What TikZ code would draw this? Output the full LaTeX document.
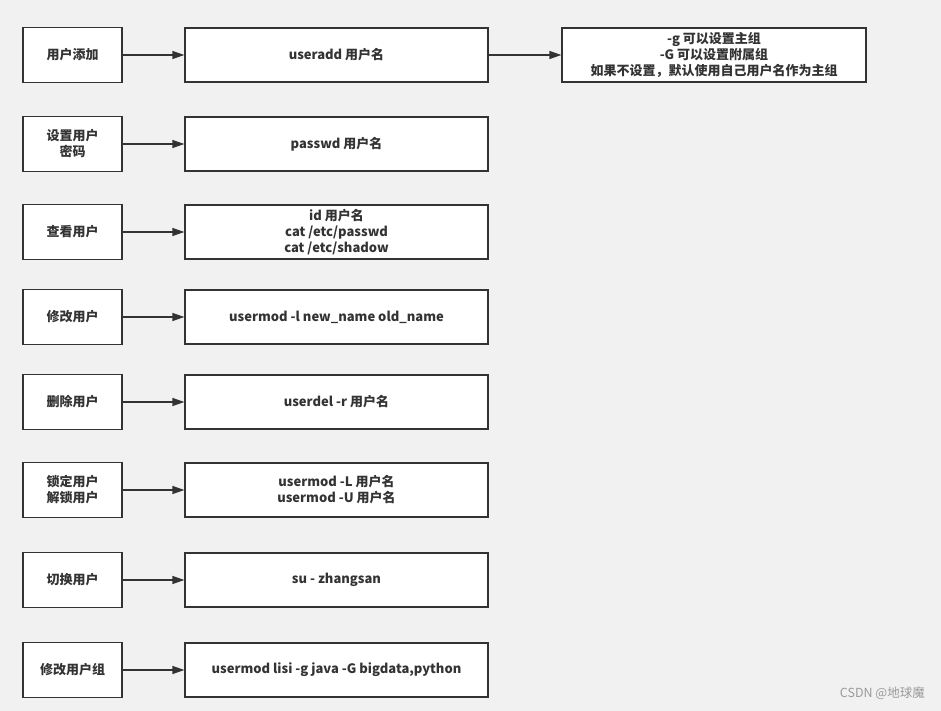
\documentclass[tikz,border=0pt]{standalone}
\usepackage{fontspec}
\setmainfont{Noto Sans CJK SC}
\usetikzlibrary{arrows.meta}
\definecolor{bg}{HTML}{F1F1F1}
\definecolor{ink}{HTML}{333333}
\definecolor{wm}{HTML}{9A9A9A}
\tikzset{
  box/.style={draw=ink, line width=1.3pt, fill=white, text=ink, font=\fontsize{13}{16}\selectfont\bfseries, align=center, inner sep=0pt},
  lbox/.style={box, minimum width=99pt, minimum height=55pt},
  rbox/.style={box, minimum width=303pt, minimum height=54pt},
  conn/.style={draw=ink, line width=1.3pt, -{Triangle[length=12pt,width=8pt]}}
}
\begin{document}
\begin{tikzpicture}[x=1pt,y=-1pt]
\fill[bg] (0,0) rectangle (941,711);
\useasboundingbox (0,0) rectangle (941,711);
% left boxes
\node[lbox] (l1) at (72.5,55) {用户添加};
\node[lbox] (l2) at (72.5,144) {设置用户\\密码};
\node[lbox] (l3) at (72.5,232) {查看用户};
\node[lbox] (l4) at (72.5,317) {修改用户};
\node[lbox] (l5) at (72.5,402) {删除用户};
\node[lbox] (l6) at (72.5,490) {锁定用户\\解锁用户};
\node[lbox] (l7) at (72.5,580) {切换用户};
\node[lbox] (l8) at (72.5,670) {修改用户组};
% right boxes
\node[rbox] (r1) at (336.5,55) {useradd 用户名};
\node[rbox] (r2) at (336.5,144) {passwd 用户名};
\node[rbox] (r3) at (336.5,232) {id 用户名\\cat /etc/passwd\\cat /etc/shadow};
\node[rbox] (r4) at (336.5,317) {usermod -l new\_name old\_name};
\node[rbox] (r5) at (336.5,402) {userdel -r 用户名};
\node[rbox] (r6) at (336.5,490) {usermod -L 用户名\\usermod -U 用户名};
\node[rbox] (r7) at (336.5,580) {su - zhangsan};
\node[rbox] (r8) at (336.5,670) {usermod lisi -g java -G bigdata,python};
% far box
\node[box, minimum width=304pt, minimum height=54pt] (f1) at (714,55) {-g 可以设置主组\\-G 可以设置附属组\\如果不设置，默认使用自己用户名作为主组};
% connectors
\foreach \i in {1,...,8} {\draw[conn] (l\i.east) -- (l\i.east -| r\i.west);}
\draw[conn] (r1.east) -- (f1.west);
% watermark
\node[text=wm, font=\fontsize{12.5}{14}\selectfont, anchor=east, inner sep=0pt] (wmk) at (925,693) {CSDN @地球魔};
\end{tikzpicture}
\end{document}
